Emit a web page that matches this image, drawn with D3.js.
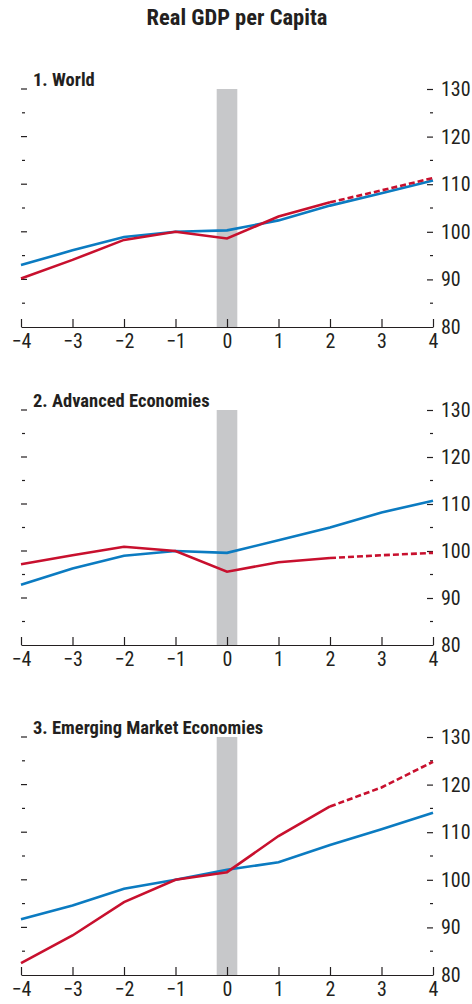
<!DOCTYPE html>
<html><head><meta charset="utf-8">
<script src="https://cdn.jsdelivr.net/npm/d3@7"></script>
<style>
body{margin:0;background:#fff;}
svg text{font-family:"Liberation Sans Narrow","Arial Narrow","Roboto Condensed",sans-serif;fill:#231f20;}
</style></head>
<body><svg id="c" width="472" height="1004"></svg>
<script>
const years = [-4,-3,-2,-1,0,1,2,3,4];
const xTicks = [-4,-3,-2,-1,0,1,2,3,4];
const yTicks = [80,90,100,110,120,130];
const yMinor = [85,95,105,115,125];
const panelTitles = ["1. World","2. Advanced Economies","3. Emerging Market Economies"];
const worldRed  = [90.2,94.1,98.3,100,98.6,103.2,106.2,108.7,111.3];
const worldBlue = [93.0,96.1,98.9,100,100.3,102.4,105.5,108.1,110.8];
const advRed    = [97.2,99.1,100.9,100,95.6,97.6,98.5,99.1,99.6];
const advBlue   = [92.8,96.3,99.0,100,99.6,102.3,105.0,108.2,110.7];
const emRed     = [82.5,88.3,95.3,100,101.6,109.2,115.4,119.4,124.8];
const emBlue    = [91.7,94.6,98.1,100,102.1,103.7,107.3,110.6,114.1];
const dashFrom = 2; // red line projected after year 2

const panels = [
  {title:panelTitles[0], red:worldRed, blue:worldBlue, top:89, bottom:327},
  {title:panelTitles[1], red:advRed, blue:advBlue, top:410, bottom:645},
  {title:panelTitles[2], red:emRed, blue:emBlue, top:737, bottom:975}
];
const RED="#c8102e", BLUE="#0b7bc1", GREY="#c7c8ca", INK="#231f20";
const svg = d3.select("#c");
svg.append("text").attr("x",237).attr("y",25).attr("text-anchor","middle")
  .style("font-size","22.5px").style("font-weight","bold").text("Real GDP per Capita");

const x = d3.scaleLinear().domain([-4,4]).range([21,433]);
panels.forEach(p=>{
  const y = d3.scaleLinear().domain([80,130]).range([p.bottom,p.top]);
  const g = svg.append("g");
  g.append("rect").attr("x",x(-0.2)).attr("width",x(0.2)-x(-0.2))
    .attr("y",y(130)).attr("height",y(80)-y(130)).attr("fill",GREY);
  const lt = g.append("g").attr("transform",`translate(${x(-4)},0)`);
  lt.selectAll("line.maj").data(yTicks.filter(d=>d>80)).join("line")
    .attr("x1",0).attr("x2",6).attr("y1",d=>y(d)).attr("y2",d=>y(d)).attr("stroke",INK).attr("stroke-width",1.2);
  lt.selectAll("line.min").data(yMinor).join("line").attr("class","min")
    .attr("x1",1).attr("x2",4).attr("y1",d=>y(d)).attr("y2",d=>y(d)).attr("stroke",INK).attr("stroke-width",1.2);
  const ra = g.append("g").attr("transform",`translate(${x(4)},0)`)
    .call(d3.axisRight(y).tickValues(yTicks).tickSize(0).tickPadding(8));
  ra.select(".domain").remove();
  ra.selectAll("text").style("font-size","20px").attr("fill",INK);
  ra.selectAll(".tick").filter(d=>d>80).append("line").attr("x1",-6).attr("x2",0).attr("stroke",INK).attr("stroke-width",1.2);
  ra.selectAll("line.mn").data(yMinor).join("line").attr("class","mn")
    .attr("x1",-3).attr("x2",0).attr("y1",d=>y(d)).attr("y2",d=>y(d)).attr("stroke",INK).attr("stroke-width",1.2);
  const xa = g.append("g").attr("transform",`translate(0,${p.bottom})`)
    .call(d3.axisBottom(x).tickValues(xTicks).tickSize(0).tickPadding(7).tickFormat(d=>d<0?"\u2212"+Math.abs(d):d));
  xa.select(".domain").attr("stroke",INK).attr("stroke-width",1.2);
  xa.selectAll("text").style("font-size","20px").attr("fill",INK);
  xa.selectAll(".tick").append("line").attr("y1",0).attr("y2",-8).attr("stroke",INK).attr("stroke-width",1.2);
  const line = d3.line().x(d=>x(d[0])).y(d=>y(d[1]));
  const bluePts = years.map((yr,i)=>[yr,p.blue[i]]);
  const redPts = years.map((yr,i)=>[yr,p.red[i]]);
  g.append("path").attr("d",line(bluePts)).attr("fill","none").attr("stroke",BLUE).attr("stroke-width",2.6);
  g.append("path").attr("d",line(redPts.filter(d=>d[0]<=dashFrom))).attr("fill","none").attr("stroke",RED).attr("stroke-width",2.6);
  g.append("path").attr("d",line(redPts.filter(d=>d[0]>=dashFrom))).attr("fill","none").attr("stroke",RED).attr("stroke-width",2.6).attr("stroke-dasharray","6,3");
  g.append("text").attr("x",33).attr("y",p.top-3).style("font-size","18.5px").style("font-weight","bold").text(p.title);
});
</script></body></html>
